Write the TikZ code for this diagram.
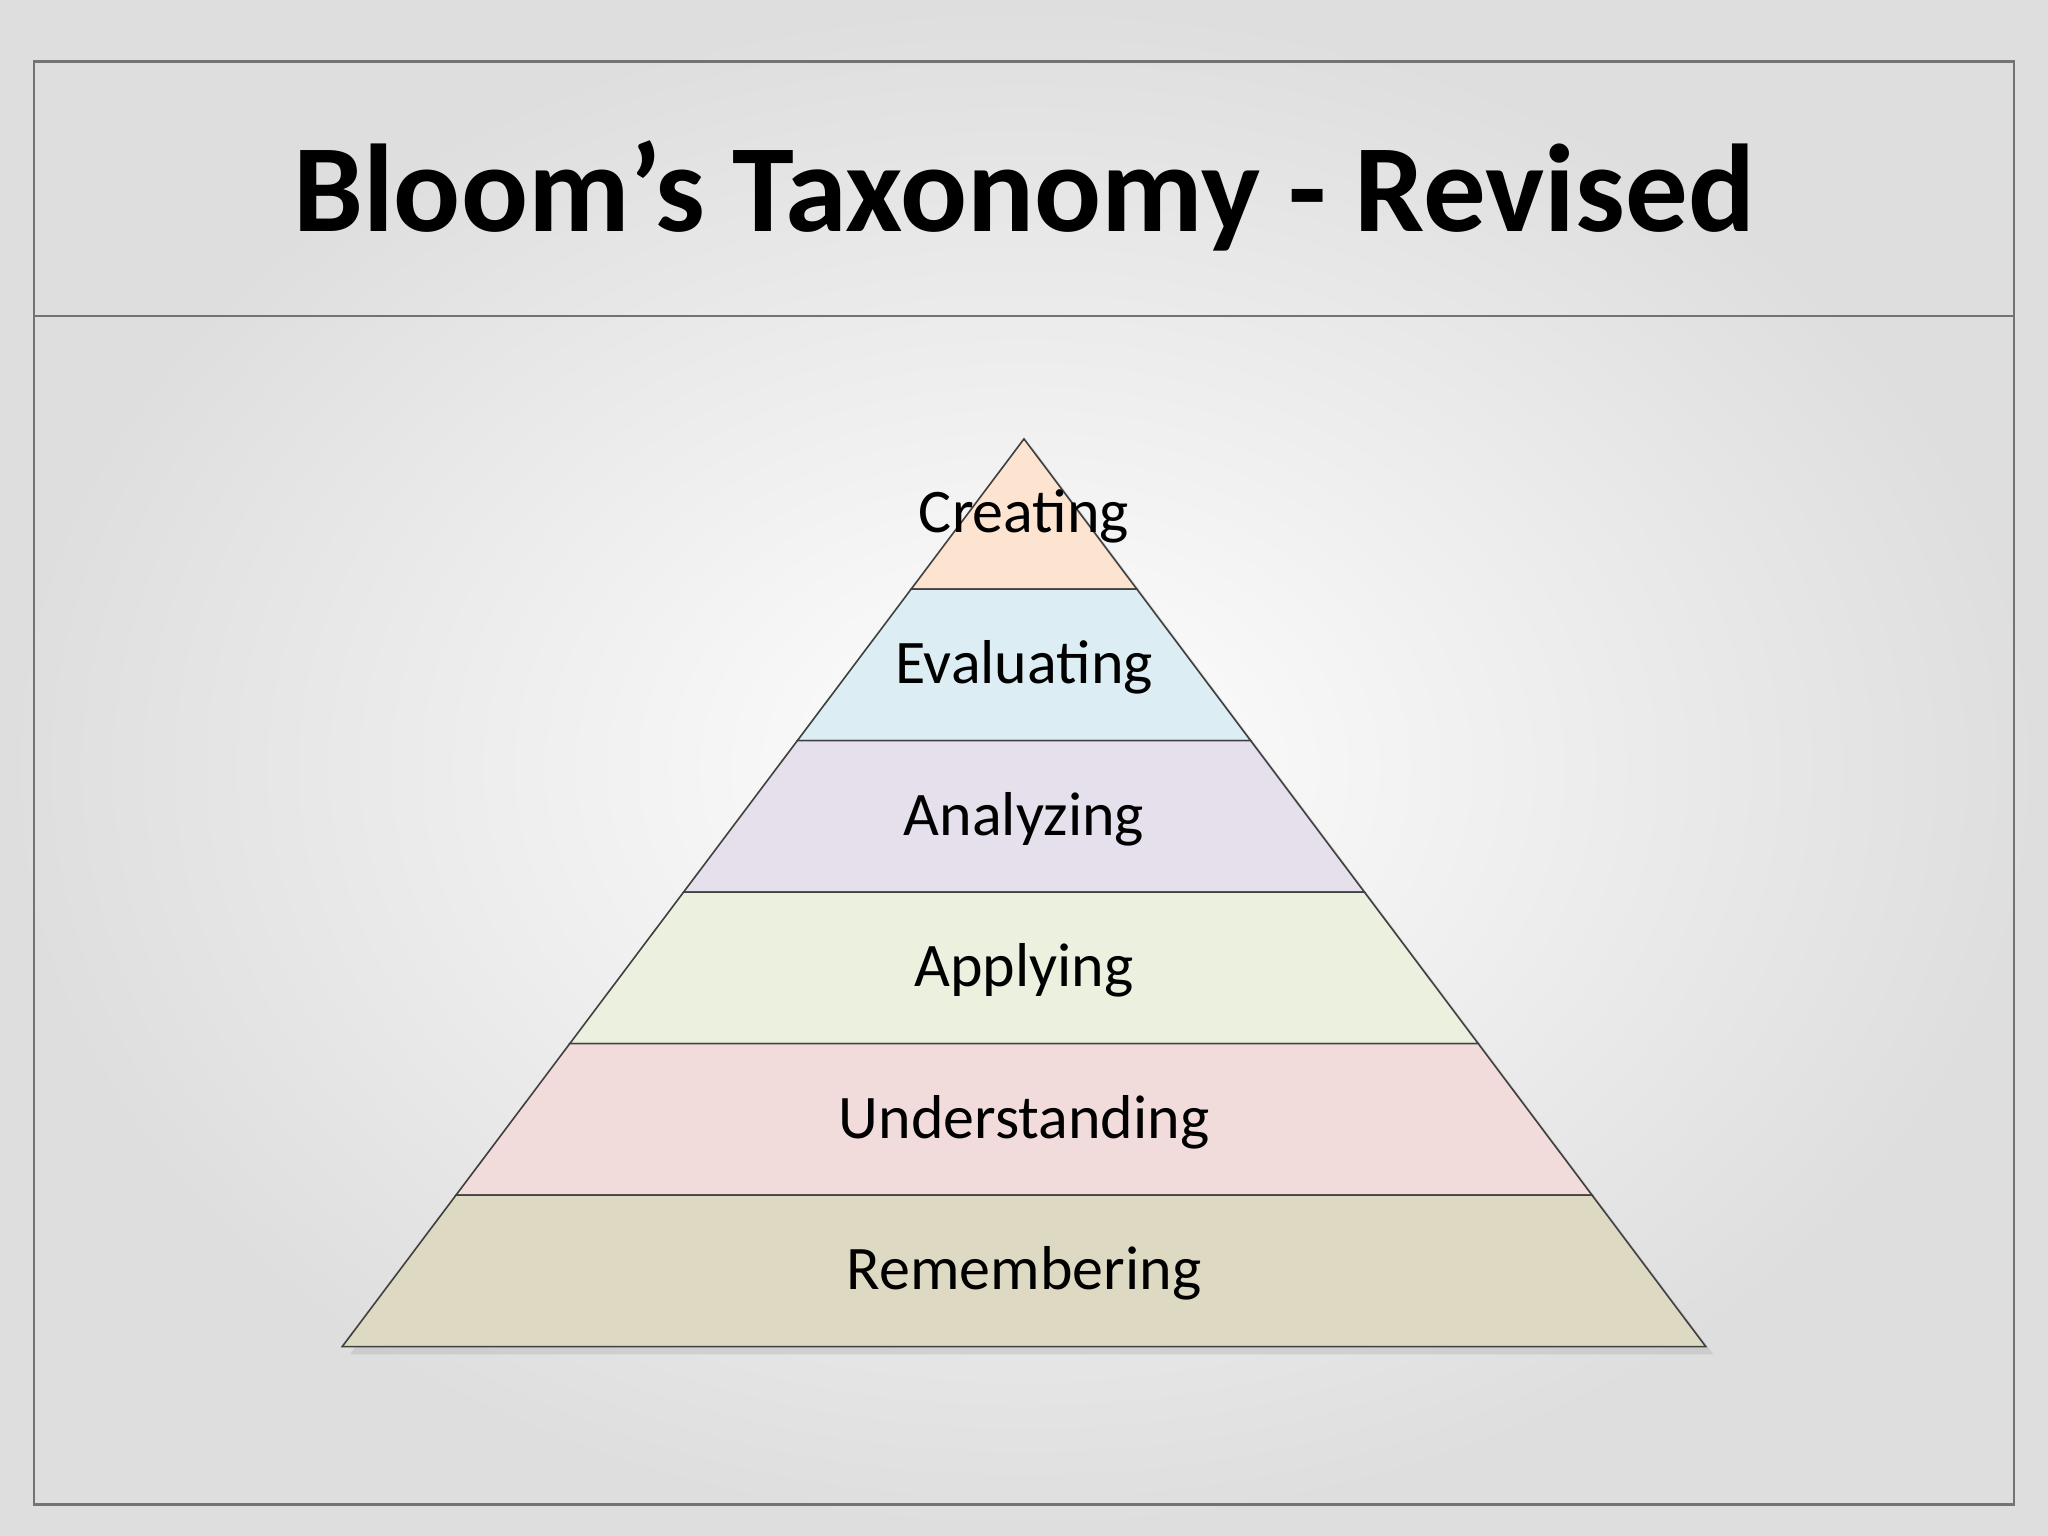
\documentclass[tikz,border=0pt]{standalone}
\usepackage{fontspec}
\setmainfont{Carlito}
\begin{document}
\begin{tikzpicture}[x=0.1mm,y=-0.1mm,
  layer/.style={draw=black!75,line width=0.35pt},
  lbl/.style={font=\fontsize{13.5}{16}\selectfont,text=black}]
\path[use as bounding box] (0,0) rectangle (1568,1176);
\shade[inner color=white,outer color=black!13] (0,0) rectangle (1568,1176);
\draw[black!55,line width=0.6pt] (26,47) rectangle (1542,1152);
\draw[black!55,line width=0.6pt] (26,242) -- (1542,242);
\node[font=\fontsize{27.2}{32}\bfseries\selectfont] (title) at (784,150) {Bloom’s Taxonomy - Revised};
\foreach \ya/\yb/\col/\nm/\txt in {
 336/451/FCE4D0/cre/Creating,
 451/567/DCEEF3/eva/Evaluating,
 567/683/E5E0EC/ana/Analyzing,
 683/799/EBF1DE/app/Applying,
 799/915/F2DCDB/und/Understanding,
 915/1031/DDD9C3/rem/Remembering}{
 \definecolor{c\nm}{HTML}{\col}
 \pgfmathsetmacro\xa{0.75108*(\ya-336)}
 \pgfmathsetmacro\xb{0.75108*(\yb-336)}
 \fill[black!30,opacity=0.4] ({784-\xa+6},\ya+6) -- ({784+\xa+6},\ya+6) -- ({784+\xb+6},\yb+6) -- ({784-\xb+6},\yb+6) -- cycle;
 \draw[layer,fill=c\nm] ({784-\xa},\ya) -- ({784+\xa},\ya) -- ({784+\xb},\yb) -- ({784-\xb},\yb) -- cycle;
 \node[lbl] (\nm) at (784,{(\ya+\yb)/2+2}) {\txt};
}
\end{tikzpicture}
\end{document}
